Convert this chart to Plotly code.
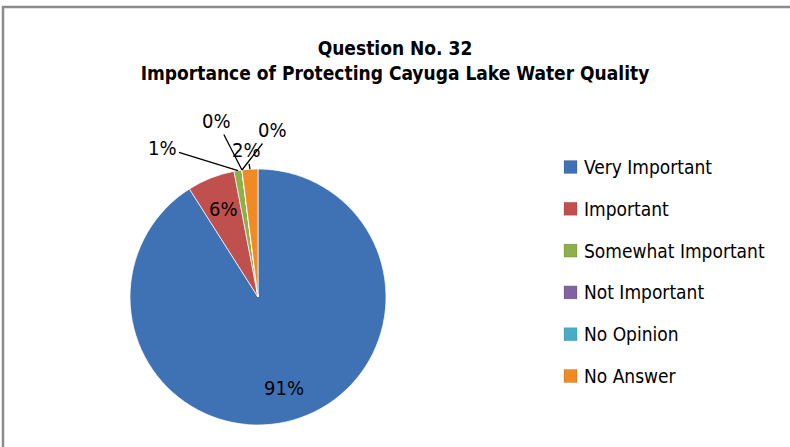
import math
import plotly.graph_objects as go

# survey answers, question 32
labels = ["Very Important", "Important", "Somewhat Important",
          "Not Important", "No Opinion", "No Answer"]
values = [91, 6, 1, 0, 0, 2]
colors = ["#3F72B5", "#C0504D", "#8DB04A", "#8064A2", "#4BACC6", "#F08A24"]

FONT = "DejaVu Sans Condensed"
W, H = 790, 447
cx, cy, R = 258, 297, 128  # pie centre / radius in px

fig = go.Figure(go.Pie(
	labels=labels, values=values, sort=False, direction="clockwise", rotation=0,
	marker=dict(colors=colors, line=dict(color="rgba(255,255,255,0.7)", width=1)),
	textinfo="none",
	domain=dict(x=[(cx - R) / W, (cx + R) / W], y=[1 - (cy + R) / H, 1 - (cy - R) / H]),
	showlegend=False, hoverinfo="label+percent",
))

# data labels: big slices inside, small ones outside with leader lines
offsets = {2: (-75, -23), 3: (-25, -49), 4: (31, -40), 5: (-3, -19)}
total = sum(values)
cum = 0
for i, v in enumerate(values):
	mid = (cum + v / 2) / total * 2 * math.pi
	cum += v
	if i in offsets:
		px = cx + R * math.sin(mid)
		py = cy - R * math.cos(mid)
		ax, ay = offsets[i]
		fig.add_annotation(x=px / W, y=1 - py / H, xref="paper", yref="paper",
			text="{}%".format(v), showarrow=True, arrowhead=0, arrowwidth=1.3,
			arrowcolor="black", ax=ax, ay=ay, standoff=0,
			font=dict(family=FONT, size=20, color="black"))
	else:
		px = cx + 0.74 * R * math.sin(mid)
		py = cy - 0.74 * R * math.cos(mid)
		fig.add_annotation(x=px / W, y=1 - py / H, xref="paper", yref="paper",
			text="{}%".format(v), showarrow=False, xanchor="center", yanchor="middle",
			font=dict(family=FONT, size=20, color="black"))

# legend drawn by hand to get the wide Excel spacing
for i, (lab, col) in enumerate(zip(labels, colors)):
	yc = 167 + i * 41.8
	fig.add_shape(type="rect", xref="paper", yref="paper",
		x0=564 / W, x1=577 / W, y0=1 - (yc + 6.5) / H, y1=1 - (yc - 6.5) / H,
		fillcolor=col, line=dict(color="rgba(0,0,0,0.25)", width=0.5))
	fig.add_annotation(x=582 / W, y=1 - yc / H, xref="paper", yref="paper",
		text=lab, showarrow=False, xanchor="left", yanchor="middle",
		font=dict(family=FONT, size=19, color="black"))

# chart border
fig.add_shape(type="rect", xref="paper", yref="paper",
	x0=3 / W, x1=1.02, y0=-0.05, y1=1 - 7 / H,
	line=dict(color="#8C8C8C", width=2.5), fillcolor="rgba(0,0,0,0)")

fig.update_layout(
	width=W, height=H,
	autosize=False,
	paper_bgcolor="white",
	plot_bgcolor="white",
	margin=dict(l=0, r=0, t=0, b=0),
	title=dict(text="<b>Question No. 32<br>Importance of Protecting Cayuga Lake Water Quality</b>",
		x=0.5, xanchor="center", y=1 - 55 / H, yanchor="top",
		font=dict(family=FONT, size=19, color="black")),
)

fig.write_html("out.html", config={"displayModeBar": False},
	post_script="document.body.style.margin='0';")
